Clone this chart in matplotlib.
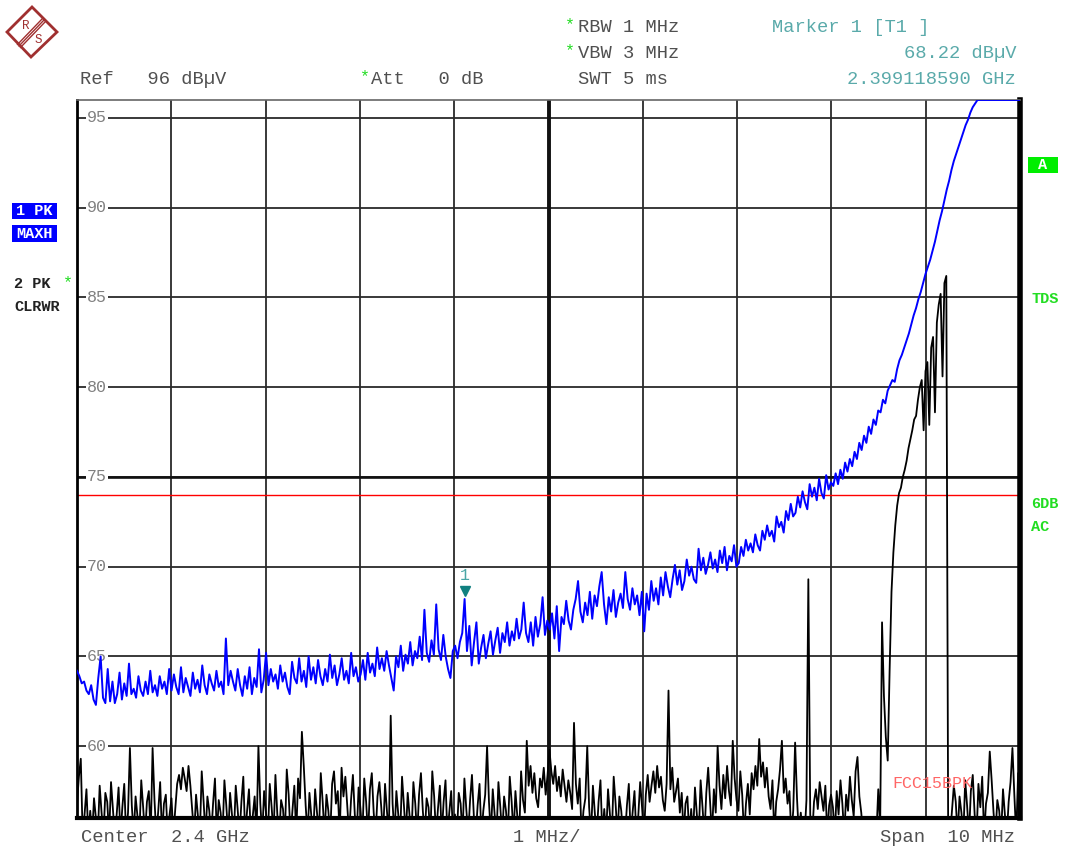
import numpy as np
import matplotlib.pyplot as plt
from matplotlib.patches import Polygon, Rectangle

W, H = 1065, 848

center_ghz = 2.4
span_mhz = 10
ref_level = 96
bottom_level = 56
limit_level = 74
marker_freq_ghz = 2.399118590
marker_level = 68.22

# trace 1: PK / MAXH (blue), 400 sweep points (40 per division)
trace1_maxh = [
    64.2, 63.9, 63.5, 63.6, 63.1, 62.9, 63.4, 62.6, 62.3, 63.8, 65.0, 62.7, 62.4, 64.3, 62.5, 63.6, 62.4, 62.9, 64.1, 62.6,
    63.5, 62.8, 64.6, 62.9, 63.2, 62.7, 63.9, 63.1, 62.8, 63.6, 62.9, 64.2, 63.0, 63.4, 62.8, 63.9, 63.2, 63.6, 62.9, 64.3,
    63.1, 64.0, 63.3, 62.9, 64.4, 63.0, 63.8, 63.3, 62.8, 64.1, 63.2, 63.7, 63.0, 64.5, 63.4, 62.9, 64.0, 63.5, 63.1, 64.2,
    63.3, 63.6, 62.9, 66.0, 63.4, 64.2, 63.6, 63.1, 64.3, 63.4, 62.8, 63.9, 63.2, 64.4, 62.9, 63.8, 63.3, 65.4, 63.0, 63.7,
    65.2, 63.4, 64.3, 63.6, 64.0, 63.2, 64.5, 63.6, 64.1, 63.3, 62.9, 64.7, 63.8, 63.5, 64.9, 63.6, 64.2, 63.3, 65.0, 63.7,
    64.4, 63.5, 64.8, 63.9, 63.4, 64.3, 63.6, 65.1, 63.8, 64.5, 63.4, 64.0, 64.9, 63.7, 64.2, 63.5, 65.2, 63.9, 64.4, 63.6,
    64.0, 64.8, 63.7, 65.2, 64.1, 64.6, 63.9, 65.5, 64.3, 64.9, 64.2, 65.3, 64.5, 63.8, 63.1, 65.0, 64.4, 65.6, 64.2, 65.1,
    64.6, 65.8, 64.5, 65.3, 64.9, 66.1, 64.8, 67.6, 65.2, 64.7, 65.9, 65.1, 67.9, 65.4, 64.8, 66.2, 65.0, 64.3, 63.8, 65.3,
    65.6, 64.9, 65.8, 66.3, 68.2, 65.3, 66.7, 64.5, 65.8, 66.9, 64.6, 65.5, 66.2, 64.9, 65.7, 66.4, 65.1, 65.9, 66.6, 65.2,
    66.3, 65.8, 66.9, 65.6, 66.4, 65.9, 67.1, 66.0, 66.5, 68.0, 66.3, 65.8, 66.9, 65.6, 67.2, 66.1, 66.8, 68.3, 66.2, 67.0,
    66.5, 67.4, 66.0, 67.8, 65.3, 67.2, 66.8, 68.1, 67.0, 66.5, 67.6, 68.2, 69.2, 67.5, 66.9, 68.0, 67.3, 68.6, 67.1, 68.4,
    67.8, 68.9, 69.7, 67.9, 66.8, 68.3, 67.5, 68.7, 67.2, 68.0, 68.5, 67.7, 69.7, 68.2, 67.6, 68.8, 67.9, 68.4, 67.3, 68.6,
    66.4, 68.5, 67.6, 69.2, 68.1, 68.8, 67.9, 69.4, 68.4, 69.7, 68.9, 68.3, 69.3, 70.1, 69.0, 69.8, 68.7, 69.2, 70.4, 69.5,
    70.0, 69.3, 69.1, 71.0, 69.8, 70.5, 69.6, 70.1, 70.8, 69.9, 70.4, 69.7, 70.9, 70.2, 71.1, 69.8, 70.6, 70.3, 71.2, 70.0,
    70.2, 71.1, 70.6, 71.5, 70.9, 71.3, 70.8, 71.8, 71.2, 70.9, 72.0, 71.5, 72.3, 71.7, 72.0, 71.4, 72.8, 72.2, 72.5, 71.9,
    73.1, 72.6, 73.5, 72.8, 73.0, 73.9, 73.3, 74.2, 73.6, 73.2, 74.6, 73.9, 74.4, 73.7, 74.9, 74.1, 73.8, 75.1, 74.3, 74.7,
    74.5, 75.2, 74.6, 75.4, 74.9, 75.8, 75.3, 76.0, 75.6, 76.4, 76.0, 76.9, 76.5, 77.3, 76.9, 77.8, 77.4, 78.2, 77.9, 78.7,
    78.6, 79.3, 79.1, 79.8, 80.1, 80.4, 80.3, 81.0, 81.5, 81.8, 82.2, 82.6, 83.0, 83.5, 84.0, 84.4, 84.9, 85.3, 85.8, 86.3,
    86.7, 87.1, 87.6, 88.1, 88.7, 89.3, 89.8, 90.4, 91.0, 91.5, 92.1, 92.6, 93.0, 93.4, 93.8, 94.2, 94.6, 94.9, 95.3, 95.6,
    95.8, 96.0, 96.0, 96.0, 96.0, 96.0, 96.0, 96.0, 96.0, 96.0, 96.0, 96.0, 96.0, 96.0, 96.0, 96.0, 96.0, 96.0, 96.0, 96.0,
]

# trace 2: PK / CLRWR (black), 500 sweep points, 55 = below the screen
trace2_clrwr = [
    56.8, 58.3, 59.3, 55, 56.2, 57.6, 55, 56.4, 55, 57.1, 56.0, 55, 57.8, 56.3, 55, 57.4, 56.9, 55, 58.0, 56.5, 55, 56.2, 57.7, 55, 56.6,
    57.9, 55, 56.3, 59.9, 56.7, 55, 57.2, 56.1, 55, 58.1, 56.6, 55, 56.9, 57.5, 55, 59.9, 57.0, 55, 56.4, 58.0, 55, 56.8, 57.3, 55, 56.2,
    57.1, 55, 56.5, 57.9, 58.4, 57.6, 58.8, 58.2, 57.5, 58.9, 57.8, 56.4, 55, 57.3, 56.1, 55, 58.6, 56.9, 55, 57.2, 56.4, 55, 56.8, 58.2, 55,
    57.0, 56.3, 55, 58.1, 56.7, 55, 57.4, 56.2, 55, 57.8, 56.5, 55, 56.9, 58.3, 55, 56.4, 57.6, 55, 56.1, 57.2, 55, 60.0, 56.8, 55, 57.5,
    56.3, 55, 57.9, 56.6, 55, 58.4, 56.2, 55, 57.0, 56.5, 55, 58.7, 57.3, 55, 56.4, 57.8, 55, 58.2, 57.1, 60.8, 58.9, 56.7, 55, 57.4, 56.1,
    55, 57.6, 56.3, 55, 58.5, 56.9, 55, 57.3, 56.4, 55, 57.9, 58.6, 56.8, 57.5, 55, 58.8, 57.2, 58.3, 56.7, 55, 57.0, 58.4, 56.2, 55, 57.7,
    56.5, 55, 58.2, 56.9, 55, 57.6, 58.5, 56.3, 55, 57.2, 58.0, 56.6, 55, 57.9, 56.4, 55, 61.7, 56.8, 55, 57.5, 56.2, 55, 58.3, 56.7, 55,
    57.4, 56.1, 55, 58.0, 56.8, 55, 57.3, 58.5, 56.4, 55, 57.1, 56.6, 55, 58.6, 57.2, 55, 56.5, 57.8, 55, 56.9, 58.1, 55, 56.3, 57.5, 55,
    56.2, 55, 57.4, 56.8, 55, 58.2, 56.5, 55, 57.0, 58.4, 56.1, 55, 56.7, 57.9, 55, 56.4, 57.3, 60.0, 56.9, 55, 57.6, 56.2, 55, 58.0, 56.6,
    55, 57.2, 56.4, 55, 58.3, 56.9, 55, 57.5, 56.1, 55, 58.6, 57.0, 56.3, 60.3, 57.8, 58.9, 57.4, 58.5, 57.1, 56.6, 58.2, 57.7, 58.8, 57.3, 58.4,
    59.8, 58.6, 57.9, 58.9, 57.5, 58.3, 57.2, 58.7, 57.8, 56.9, 58.1, 57.4, 56.5, 61.3, 57.9, 56.8, 58.2, 55, 56.4, 57.1, 60.0, 56.6, 55, 57.8, 56.3,
    55, 56.9, 58.1, 55, 56.5, 55, 57.6, 56.2, 55, 58.3, 56.8, 55, 57.2, 56.4, 55, 55, 56.7, 57.9, 55, 56.3, 57.5, 55, 56.1, 58.0, 56.6,
    55, 57.3, 58.4, 56.9, 57.8, 58.6, 57.4, 58.9, 57.7, 58.3, 57.0, 56.4, 57.9, 63.1, 57.6, 58.8, 56.9, 57.5, 58.2, 56.3, 57.4, 55, 56.8, 57.2, 55,
    56.5, 55, 57.7, 56.2, 55, 58.1, 56.6, 55, 57.4, 58.8, 56.9, 55, 57.6, 56.3, 60.0, 57.8, 56.5, 58.4, 57.1, 58.9, 57.5, 56.7, 60.3, 58.2, 57.0,
    56.4, 58.6, 57.3, 55, 56.8, 57.9, 56.2, 58.5, 57.6, 58.9, 57.8, 60.4, 58.3, 59.1, 57.7, 58.8, 57.2, 56.5, 58.1, 55, 56.9, 57.6, 58.7, 60.3, 57.4,
    58.2, 56.8, 57.5, 55, 56.4, 60.2, 57.1, 55, 56.3, 55, 55, 57.0, 69.3, 56.2, 55, 56.9, 57.6, 56.5, 58.0, 57.2, 56.4, 57.8, 55, 56.7, 57.3,
    56.6, 55, 57.5, 56.2, 58.1, 56.8, 55, 57.3, 56.4, 58.3, 57.0, 56.1, 58.6, 59.4, 57.2, 56.3, 55, 55, 55, 55, 55, 56.0, 55, 55,
    57.6, 55.5, 66.9, 62.8, 60.5, 59.2, 64.2, 68.6, 70.8, 72.3, 73.4, 74.1, 74.4, 75.0, 75.4, 75.9, 76.6, 77.1, 77.6, 78.2,
    78.4, 79.3, 80.0, 80.4, 77.6, 80.9, 81.4, 77.9, 82.2, 82.8, 78.6, 83.6, 84.6, 85.2, 80.6, 85.8, 86.2, 55,
    55, 56.4, 57.8, 56.9, 55, 57.2, 56.3, 55, 58.1, 56.7, 55, 57.5, 58.4, 56.2, 55, 57.9, 56.6, 58.3, 55, 56.8,
    57.4, 59.7, 58.1, 56.3, 55, 57.0, 56.4, 55, 57.6, 56.2, 55, 56.9, 58.0, 59.9, 57.3, 55, 58.5, 56.8,
]

f1 = np.linspace(-span_mhz / 2, span_mhz / 2, len(trace1_maxh))
f2 = np.linspace(-span_mhz / 2, span_mhz / 2, len(trace2_clrwr))


def fx(x):
    return x / W


def fy(y):
    return 1 - y / H


plt.rcParams['font.family'] = ['Liberation Mono', 'DejaVu Sans Mono']

fig = plt.figure(figsize=(W / 100, H / 100), dpi=100)
ax = fig.add_axes([fx(77), fy(818), (1020 - 77) / W, (818 - 100) / H])
ax.set_xlim(-span_mhz / 2, span_mhz / 2)
ax.set_ylim(bottom_level, ref_level)
ax.set_xticks(np.arange(-5, 6, 1))
ax.set_yticks(np.arange(60, 96, 5))
ax.tick_params(length=0, labelbottom=False, labelleft=False)
ax.grid(True, color='#2a2a2a', lw=1.3, zorder=1)
ax.set_axisbelow(True)
ax.axvline(0, color='#111111', lw=2.8, zorder=1.2)
ax.axhline(75, color='#111111', lw=1.9, zorder=1.2)
ax.spines['left'].set_linewidth(2)
ax.spines['bottom'].set_linewidth(3)
ax.spines['right'].set_linewidth(4)
ax.spines['top'].set_linewidth(1.2)
ax.spines['top'].set_color('#666666')

for v in ax.get_yticks():
    ax.text(0.021, v, '%d' % v, transform=ax.get_yaxis_transform(), ha='center', va='center',
            fontsize=12, color='#808080', zorder=2,
            bbox=dict(fc='white', ec='none', pad=0.6))

ax.axhline(limit_level, color='#ff0000', lw=1.0, zorder=2.5)
ax.plot(f1, trace1_maxh, color='#0000ff', lw=1.4, zorder=3)
ax.plot(f2, trace2_clrwr, color='black', lw=1.3, zorder=4)

mi = int(np.argmin(np.abs(f1 - (marker_freq_ghz - center_ghz) * 1000)))
ax.plot(f1[mi], trace1_maxh[mi] + 0.45, marker='v', color='#108080', ms=7, zorder=5)
ax.text(f1[mi], trace1_maxh[mi] + 1.3, '1', color='#4aa6a6', fontsize=12,
        ha='center', va='center', zorder=5)

ax.text(3.65, 57.9, 'FCC15BPK', color='#ff6666', fontsize=12, va='center', zorder=5)

# header
gray = '#505050'
teal = '#5aaaaa'
green = '#22dd22'
fs = 13.5
fig.text(fx(80), fy(79), 'Ref   96 dBµV', va='center', fontsize=fs, color=gray)
fig.text(fx(360), fy(77), '*', va='center', fontsize=12, color=green)
fig.text(fx(371), fy(79), 'Att   0 dB', va='center', fontsize=fs, color=gray)
fig.text(fx(565), fy(25), '*', va='center', fontsize=12, color=green)
fig.text(fx(578), fy(27), 'RBW 1 MHz', va='center', fontsize=fs, color=gray)
fig.text(fx(565), fy(51), '*', va='center', fontsize=12, color=green)
fig.text(fx(578), fy(53), 'VBW 3 MHz', va='center', fontsize=fs, color=gray)
fig.text(fx(578), fy(79), 'SWT 5 ms', va='center', fontsize=fs, color=gray)
fig.text(fx(772), fy(27), 'Marker 1 [T1 ]', va='center', fontsize=fs, color=teal)
fig.text(fx(1016), fy(53), '%.2f dBµV' % marker_level, va='center', ha='right', fontsize=fs, color=teal)
fig.text(fx(1016), fy(79), '%.9f GHz' % marker_freq_ghz, va='center', ha='right', fontsize=fs, color=teal)

# footer
fig.text(fx(81), fy(838), 'Center  %.1f GHz' % center_ghz, va='center', fontsize=fs, color=gray)
fig.text(fx(513), fy(838), '%d MHz/' % (span_mhz // 10), va='center', fontsize=fs, color=gray)
fig.text(fx(1015), fy(838), 'Span  %d MHz' % span_mhz, va='center', ha='right', fontsize=fs, color=gray)

# left trace labels
for y0, y1, s in [(203, 219, '1 PK'), (225, 242, 'MAXH')]:
    fig.add_artist(Rectangle((fx(12), fy(y1)), (57 - 12) / W, (y1 - y0) / H,
                             transform=fig.transFigure, fc='#0000ff', ec='none'))
    fig.text(fx(34.5), fy((y0 + y1) / 2), s, ha='center', va='center', fontsize=11,
             color='white', fontweight='bold')
fig.text(fx(14), fy(284), '2 PK', va='center', fontsize=11, color='#222222', fontweight='bold')
fig.text(fx(63), fy(283), '*', va='center', fontsize=12, color=green)
fig.text(fx(14), fy(307), 'CLRWR', va='center', fontsize=11, color='#222222', fontweight='bold')

# right side labels
fig.add_artist(Rectangle((fx(1028), fy(173)), 30 / W, 16 / H, transform=fig.transFigure,
                         fc='#00ee00', ec='none'))
fig.text(fx(1043), fy(165), 'A', ha='center', va='center', fontsize=11, color='white', fontweight='bold')
fig.text(fx(1031), fy(299), 'TDS', va='center', fontsize=11, color=green, fontweight='bold')
fig.text(fx(1031), fy(504), '6DB', va='center', fontsize=11, color=green, fontweight='bold')
fig.text(fx(1031), fy(527), 'AC', va='center', fontsize=11, color=green, fontweight='bold')

# R&S logo
logo = '#a03030'
fig.add_artist(Polygon([(fx(32), fy(7)), (fx(57), fy(32)), (fx(31), fy(57)), (fx(7), fy(32))],
                       closed=True, transform=fig.transFigure, fc='none', ec=logo, lw=2))
for d in (-1.5, 0, 1.5):
    fig.add_artist(plt.Line2D([fx(19 + d), fx(44 + d)], [fy(46 + d), fy(20 + d)],
                              transform=fig.transFigure, color=logo, lw=1))
fig.text(fx(26), fy(26), 'R', ha='center', va='center', fontsize=9, color=logo)
fig.text(fx(38), fy(40), 'S', ha='center', va='center', fontsize=9, color=logo)

plt.savefig('out.png', dpi=100)
